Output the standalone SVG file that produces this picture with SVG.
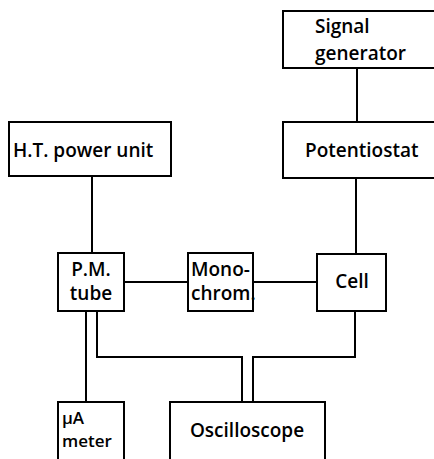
<svg xmlns="http://www.w3.org/2000/svg" width="434" height="459" viewBox="0 0 434 459">
<style>
.box{fill:#fff;stroke:#000;stroke-width:2}
.ln{fill:none;stroke:#000;stroke-width:2}
text{font-family:"Open Sans","Liberation Sans",sans-serif;font-size:19px;font-weight:600;fill:#000}
.sm{font-size:17px}
</style>
<rect width="434" height="459" fill="#fff"/>
<g id="connectors">
<line class="ln" x1="357" y1="68" x2="357" y2="122"/>
<line class="ln" x1="356" y1="178" x2="356" y2="254"/>
<line class="ln" x1="92" y1="176" x2="92" y2="253"/>
<line class="ln" x1="124" y1="282" x2="188" y2="282"/>
<line class="ln" x1="253" y1="282" x2="317" y2="282"/>
<line class="ln" x1="86" y1="311" x2="86" y2="402"/>
<polyline class="ln" points="97,311 97,357 242,357 242,402"/>
<polyline class="ln" points="355,311 355,357 253,357 253,402"/>
</g>
<g id="signal-generator">
<rect class="box" x="283" y="11" width="155" height="57"/>
<text x="315" y="33">Signal</text>
<text x="315" y="60">generator</text>
</g>
<g id="potentiostat">
<rect class="box" x="283" y="122" width="155" height="56"/>
<text x="305" y="157">Potentiostat</text>
</g>
<g id="ht-power-unit">
<rect class="box" x="9" y="122" width="162" height="54"/>
<text x="13" y="157">H.T. power unit</text>
</g>
<g id="pm-tube">
<rect class="box" x="58" y="253" width="66" height="58"/>
<text x="91" y="276" text-anchor="middle">P.M.</text>
<text x="91" y="300" text-anchor="middle">tube</text>
</g>
<g id="monochrom">
<rect class="box" x="188" y="253" width="65" height="58"/>
<text x="191" y="276">Mono-</text>
<text x="191" y="300">chrom.</text>
</g>
<g id="cell">
<rect class="box" x="317" y="254" width="69" height="57"/>
<text x="352" y="288" text-anchor="middle">Cell</text>
</g>
<g id="ua-meter">
<rect class="box" x="58" y="402" width="66" height="62"/>
<text class="sm" x="62" y="424">μA</text>
<text class="sm" x="62" y="447">meter</text>
</g>
<g id="oscilloscope">
<rect class="box" x="170" y="402" width="155" height="62"/>
<text x="247" y="437" text-anchor="middle">Oscilloscope</text>
</g>
</svg>
